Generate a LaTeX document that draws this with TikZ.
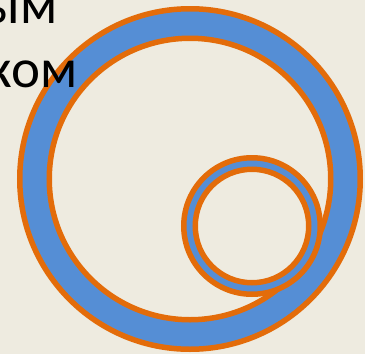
\documentclass[tikz,border=0pt]{standalone}
\usepackage{fontspec}
\setmainfont{Carlito}
\definecolor{slidebg}{HTML}{EEEBE0}
\definecolor{ringblue}{HTML}{558ED5}
\definecolor{ringorange}{HTML}{E36C0A}

\begin{document}
\begin{tikzpicture}[x=1pt,y=-1pt,
  ring/.style={fill=ringblue,draw=ringorange,line width=5.5pt,even odd rule},
  word/.style={anchor=base east,inner sep=0pt,font=\fontsize{55}{66}\selectfont}
]
\useasboundingbox (0,0) rectangle (365,354);
\fill[slidebg] (0,0) rectangle (365,354);
\clip (0,0) rectangle (365,354);
\coordinate (bigc) at (190,179);
\coordinate (smallc) at (252,226);
% big ring, then the small one over it
\filldraw[ring] (bigc) circle[radius=170.25pt] (bigc) circle[radius=140.75pt];
\filldraw[ring] (smallc) circle[radius=68.25pt] (smallc) circle[radius=56.75pt];
\node[word] (line1) at (58,23) {ым};
\node[word] (line2) at (78,87) {ком};
\end{tikzpicture}
\end{document}
